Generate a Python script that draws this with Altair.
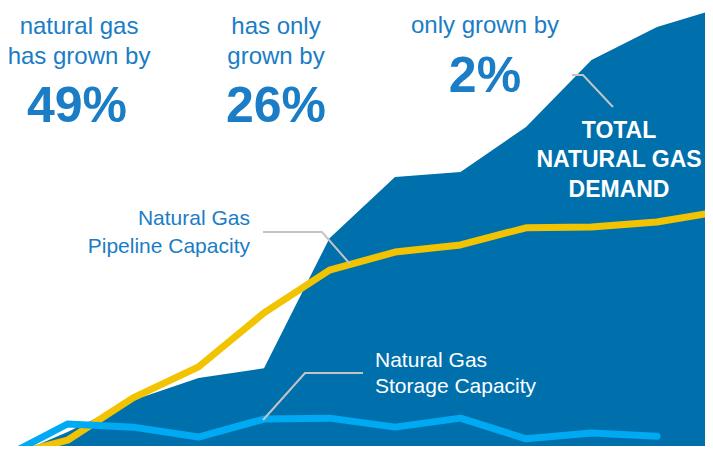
import altair as alt
import pandas as pd

# ---- series (index = year step, values in chart units) ----
steps = list(range(12))
demand = [0.0, 6.2, 13.3, 18.2, 20.4, 49.3, 62.9, 64.0, 74.0, 88.9, 96.2, 100.6]
pipeline = [0.6, 4.4, 13.8, 20.7, 32.7, 42.2, 46.2, 47.8, 51.6, 51.8, 52.9, 55.3]
storage_steps = list(range(11))
storage = [0.4, 8.0, 7.3, 5.1, 9.1, 9.3, 7.3, 9.3, 4.7, 6.0, 5.3]

# ---- annotation anchors (in data units) ----
leader_groups = ["pipe", "pipe", "pipe", "stor", "stor", "stor", "tot", "tot", "tot"]
leader_order = [0, 1, 2, 0, 1, 2, 0, 1, 2]
leader_x = [3.985, 4.885, 5.313, 3.985, 4.626, 5.511, 8.702, 8.870, 9.328]
leader_y = [50.67, 50.67, 43.56, 8.89, 19.33, 19.33, 85.56, 85.56, 78.44]

head_texts = [
    "demand for\nnatural gas\nhas grown by",
    "infrastructure\nhas only\ngrown by",
    "capacity has\nonly grown by",
]
head_x = [1.176, 4.183, 7.374]
head_y = [101.33, 101.33, 101.56]

pct_texts = ["49%", "26%", "2%"]
pct_x = [1.145, 4.183, 7.374]
pct_y = [75.11, 75.11, 81.78]

pipe_label = "Natural Gas\nPipeline Capacity"
pipe_label_pos = (3.786, 52.22)
stor_label = "Natural Gas\nStorage Capacity"
stor_label_pos = (5.695, 20.67)
total_label = "TOTAL\nNATURAL GAS\nDEMAND"
total_label_pos = (9.42, 71.56)

FONT = "Liberation Sans"
DARK = "#0070ad"
YELLOW = "#f2c300"
LIGHT = "#00aaf2"
TEXT_BLUE = "#1a7dc5"
GREY = "#c4c4c4"

xs = alt.Scale(domain=[0, 11], range=[-6, 714.5], zero=False, nice=False)
ys = alt.Scale(domain=[0, 100], range=[452, 2], zero=False, nice=False)

main = pd.DataFrame({"step": steps, "demand": demand, "pipeline": pipeline})
stor = pd.DataFrame({"step": storage_steps, "storage": storage})

X = lambda f: alt.X(f, type="quantitative", scale=xs, axis=None)
Y = lambda f: alt.Y(f, type="quantitative", scale=ys, axis=None)

area = alt.Chart(main).mark_area(color=DARK, clip=True, opacity=1).encode(
    x=X("step"), y=Y("demand"), y2=alt.datum(0)
)
pipe_line = alt.Chart(main).mark_line(color=YELLOW, strokeWidth=7, clip=True,
                                      strokeJoin="round").encode(
    x=X("step"), y=Y("pipeline")
)
stor_line = alt.Chart(stor).mark_line(color=LIGHT, strokeWidth=7, clip=True,
                                      strokeCap="round", strokeJoin="round").encode(
    x=X("step"), y=Y("storage")
)

leaders_df = pd.DataFrame({"g": leader_groups, "o": leader_order,
                           "x": leader_x, "y": leader_y})
leaders = alt.Chart(leaders_df).mark_line(color=GREY, strokeWidth=2).encode(
    x=X("x"), y=Y("y"), detail="g:N", order="o:Q"
)

head_df = pd.DataFrame({"t": head_texts, "x": head_x, "y": head_y})
heads = alt.Chart(head_df).mark_text(
    font=FONT, fontSize=24, color=TEXT_BLUE, align="center", baseline="alphabetic",
    lineBreak="\n", lineHeight=30
).encode(x=X("x"), y=Y("y"), text="t:N")

pct_df = pd.DataFrame({"t": pct_texts, "x": pct_x, "y": pct_y})
pcts = alt.Chart(pct_df).mark_text(
    font=FONT, fontSize=50, fontWeight="bold", color=TEXT_BLUE, align="center",
    baseline="alphabetic"
).encode(x=X("x"), y=Y("y"), text="t:N")

pipe_df = pd.DataFrame({"t": [pipe_label], "x": [pipe_label_pos[0]], "y": [pipe_label_pos[1]]})
pipe_txt = alt.Chart(pipe_df).mark_text(
    font=FONT, fontSize=21, color=TEXT_BLUE, align="right", baseline="alphabetic",
    lineBreak="\n", lineHeight=28
).encode(x=X("x"), y=Y("y"), text="t:N")

stor_df = pd.DataFrame({"t": [stor_label], "x": [stor_label_pos[0]], "y": [stor_label_pos[1]]})
stor_txt = alt.Chart(stor_df).mark_text(
    font=FONT, fontSize=21, color="white", align="left", baseline="alphabetic",
    lineBreak="\n", lineHeight=26
).encode(x=X("x"), y=Y("y"), text="t:N")

tot_df = pd.DataFrame({"t": [total_label], "x": [total_label_pos[0]], "y": [total_label_pos[1]]})
tot_txt = alt.Chart(tot_df).mark_text(
    font=FONT, fontSize=23, fontWeight="bold", color="white", align="center",
    baseline="alphabetic", lineBreak="\n", lineHeight=29.5
).encode(x=X("x"), y=Y("y"), text="t:N")

chart = alt.layer(
    area, pipe_line, stor_line, leaders, heads, pcts, pipe_txt, stor_txt, tot_txt
).properties(
    width=697, height=438, padding=0, autosize=alt.AutoSizeParams(type="none"),
    background="white"
).configure_view(stroke=None)

chart.save("out.html", embed_options={"renderer": "svg", "actions": False})
